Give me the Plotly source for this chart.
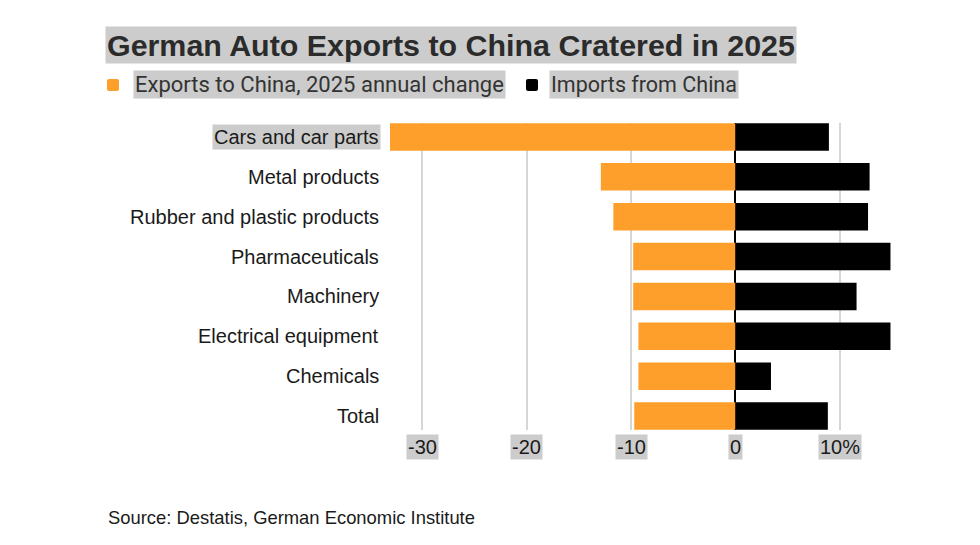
import plotly.graph_objects as go

# data
categories = [
    "Cars and car parts",
    "Metal products",
    "Rubber and plastic products",
    "Pharmaceuticals",
    "Machinery",
    "Electrical equipment",
    "Chemicals",
    "Total",
]
exports_change = [-33.1, -12.9, -11.7, -9.8, -9.8, -9.3, -9.3, -9.7]
imports_change = [8.95, 12.85, 12.7, 14.85, 11.6, 14.85, 3.4, 8.85]
x_ticks = [-30, -20, -10, 0, 10]
x_tick_labels = ["-30", "-20", "-10", "0", "10%"]

ORANGE = "#FF9F2B"
HILITE = "#cccccc"
TEXT = "#1a1a1a"

W, H = 980, 545
OFF = 8  # page offset of the rendered figure
# plot area in screen pixels
X0, X1, Y0, Y1 = 390, 891, 123, 430
L, R, T, B = X0 - OFF, W - X1 + OFF, Y0 - OFF, H - Y1 + OFF
pw, ph = X1 - X0, Y1 - Y0


def px_x(p):
    return (p - X0) / pw


def px_y(p):
    return (Y1 - p) / ph


fig = go.Figure()
fig.add_trace(go.Bar(y=categories, x=exports_change, orientation="h",
                     marker=dict(color=ORANGE, line=dict(width=0)),
                     width=0.69, name="Exports to China, 2025 annual change",
                     showlegend=False))
fig.add_trace(go.Bar(y=categories, x=imports_change, orientation="h",
                     marker=dict(color="#000000", line=dict(width=0)),
                     width=0.69, name="Imports from China", showlegend=False))

sans = "Liberation Sans, Arial, sans-serif"

annotations = [
    # title
    dict(text="<b>German Auto Exports to China Cratered in 2025</b>",
         xref="paper", yref="paper", x=px_x(105), y=px_y(45),
         xanchor="left", yanchor="middle", showarrow=False,
         font=dict(family=sans, size=30.4, color="#2b2b2b"),
         bgcolor=HILITE, borderpad=1),
    # legend text
    dict(text="Exports to China, 2025 annual change",
         xref="paper", yref="paper", x=px_x(133), y=px_y(85),
         xanchor="left", yanchor="middle", showarrow=False,
         font=dict(family="Roboto", size=22, color="#333333"),
         bgcolor=HILITE, borderpad=1),
    dict(text="Imports from China",
         xref="paper", yref="paper", x=px_x(549), y=px_y(85),
         xanchor="left", yanchor="middle", showarrow=False,
         font=dict(family="Roboto", size=21.5, color="#333333"),
         bgcolor=HILITE, borderpad=1),
    # source
    dict(text="Source: Destatis, German Economic Institute",
         xref="paper", yref="paper", x=px_x(106), y=px_y(517),
         xanchor="left", yanchor="middle", showarrow=False,
         font=dict(family=sans, size=18.4, color=TEXT)),
]

# category labels
for i, c in enumerate(categories):
    annotations.append(dict(
        text=c, xref="paper", yref="y", x=0, y=c, xanchor="right",
        yanchor="middle", xshift=-9, showarrow=False,
        font=dict(family=sans, size=20, color=TEXT),
        bgcolor=HILITE if i == 0 else "rgba(0,0,0,0)", borderpad=1))

# x tick labels
for v, t in zip(x_ticks, x_tick_labels):
    annotations.append(dict(
        text=t, xref="x", yref="paper", x=v, y=0, xanchor="center",
        yanchor="top", yshift=-4, showarrow=False,
        font=dict(family=sans, size=20, color=TEXT),
        bgcolor=HILITE, borderpad=1))

# legend keys, slightly rounded squares
def key_path(x0, x1, y0, y1, r=2):
    return (f"M {x0 + r},{y0} L {x1 - r},{y0} Q {x1},{y0} {x1},{y0 + r} "
            f"L {x1},{y1 - r} Q {x1},{y1} {x1 - r},{y1} L {x0 + r},{y1} "
            f"Q {x0},{y1} {x0},{y1 - r} L {x0},{y0 + r} Q {x0},{y0} {x0 + r},{y0} Z")


shapes = [
    dict(type="path", xref="paper", yref="paper", xsizemode="pixel",
         ysizemode="pixel", xanchor=px_x(113), yanchor=px_y(85),
         path=key_path(-6, 6, -6, 6), fillcolor=ORANGE, line=dict(width=0)),
    dict(type="path", xref="paper", yref="paper", xsizemode="pixel",
         ysizemode="pixel", xanchor=px_x(532), yanchor=px_y(85),
         path=key_path(-6, 6, -6, 6), fillcolor="#000000", line=dict(width=0)),
]

fig.update_layout(
    width=W, height=H,
    margin=dict(l=L, r=R, t=T, b=B),
    paper_bgcolor="white", plot_bgcolor="white",
    barmode="relative",
    annotations=annotations, shapes=shapes,
    xaxis=dict(range=[-33.1, 14.9], tickvals=x_ticks, showticklabels=False,
               showgrid=True, gridcolor="#d6d6d6", gridwidth=1.5,
               zeroline=True, zerolinecolor="#000000", zerolinewidth=1.5,
               showline=False, fixedrange=True),
    yaxis=dict(range=[7.35, -0.35], showticklabels=False, showgrid=False,
               zeroline=False, showline=False, fixedrange=True),
)

fig.write_html("out.html")
